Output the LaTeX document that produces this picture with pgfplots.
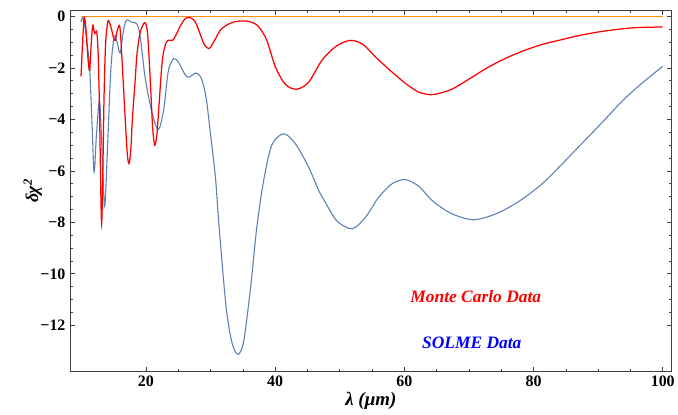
\documentclass[border=0pt]{standalone}
\usepackage{fontspec}
\setmainfont{Liberation Serif}
\usepackage{pgfplots}
\pgfplotsset{compat=1.18}

\definecolor{mcred}{rgb}{1,0,0}
\definecolor{solme}{rgb}{0.368,0.507,0.710}
\definecolor{zeroline}{rgb}{1,0.55,0.05}
\definecolor{framegray}{rgb}{0.25,0.25,0.25}

% delta chi^2 against wavelength, Monte Carlo data
\pgfplotstableread{
x y
9.95 -2.33
10.2 -1.0
10.43 -0.06
10.65 -0.3
10.83 -0.9
11.05 -1.7
11.28 -2.10
11.5 -1.2
11.75 -0.35
11.95 -0.55
12.1 -0.66
12.34 -0.58
12.5 -0.9
12.66 -1.9
12.85 -4.2
13.0 -6.6
13.14 -8.08
13.3 -6.5
13.5 -3.3
13.7 -1.4
13.86 -0.7
14.15 -0.16
14.6 -0.43
15.0 -0.85
15.26 -0.93
15.5 -0.6
15.9 -0.35
16.1 -0.8
16.3 -1.7
16.8 -4.0
17.1 -5.3
17.37 -5.72
17.65 -5.2
17.9 -4.0
18.3 -2.6
18.6 -1.5
19.0 -0.75
19.4 -0.4
19.9 -0.25
20.28 -0.74
20.75 -2.87
21.03 -4.3
21.36 -5.0
21.69 -4.6
21.97 -3.65
22.54 -1.7
23.15 -1.0
23.67 -0.93
24.14 -0.93
24.61 -0.74
25.36 -0.35
26.11 -0.08
26.86 -0.05
27.61 -0.2
28.37 -0.67
29.02 -1.09
29.78 -1.25
30.62 -0.93
31.47 -0.55
32.41 -0.35
33.82 -0.2
35.44 -0.18
36.5 -0.24
37.46 -0.4
38.71 -0.93
40.05 -1.97
41.59 -2.64
43.32 -2.83
45.17 -2.56
47.23 -1.71
49.38 -1.17
51.64 -0.93
53.6 -1.09
55.56 -1.58
57.81 -2.1
60.22 -2.61
62.24 -2.94
64.1 -3.04
65.7 -2.97
67.5 -2.81
70.24 -2.4
73.0 -1.97
75.74 -1.62
78.6 -1.32
81.46 -1.08
84.22 -0.91
87.11 -0.74
89.89 -0.61
92.78 -0.51
95.57 -0.44
97.84 -0.42
100 -0.41
}\montecarlo

% delta chi^2 against wavelength, SOLME data
\pgfplotstableread{
x y
9.95 -0.22
10.22 -0.05
10.59 -0.45
10.91 -1.1
11.28 -1.97
11.66 -4.2
11.98 -6.05
12.34 -4.6
12.82 -3.3
13.22 -5.3
13.62 -7.38
14.10 -4.8
14.58 -2.0
15.10 -0.78
15.53 -1.0
16.01 -1.42
16.49 -0.6
16.97 -0.15
17.77 -0.22
18.56 -0.28
19.09 -0.75
19.89 -2.4
20.9 -3.7
21.91 -4.4
22.73 -3.65
23.48 -2.1
24.32 -1.64
25.08 -1.8
26.39 -2.36
27.71 -2.2
28.46 -2.35
28.93 -2.7
29.4 -3.3
29.87 -4.3
30.34 -5.3
30.81 -6.4
31.37 -8.3
32.41 -11.29
33.35 -12.71
34.29 -13.13
35.16 -12.58
36.21 -10.51
37.17 -8.18
38.23 -6.37
39.48 -5.0
41.3 -4.56
43.12 -4.94
45.17 -5.85
46.74 -6.76
47.72 -7.2
49.58 -7.95
51.93 -8.25
53.99 -7.8
56.05 -7.02
58.11 -6.5
60.13 -6.34
62.24 -6.6
64.3 -7.15
67.2 -7.65
70.74 -7.9
74.36 -7.65
77.96 -7.15
81.78 -6.4
86.47 -5.2
90.32 -4.2
93.85 -3.26
96.76 -2.6
100 -1.94
}\solme

\begin{document}
\begin{tikzpicture}
% page frame
\path (-70bp,-43bp) rectangle (608bp,372bp);
\begin{axis}[
  at={(0,0)}, anchor=south west,
  scale only axis, width=602bp, height=362bp,
  xmin=8.24, xmax=101.39, ymin=-13.81, ymax=0.25,
  xtick={20,40,60,80,100}, xticklabels={20,40,60,80,100},
  minor x tick num=3,
  ytick={-12,-10,-8,-6,-4,-2,0},
  yticklabels={−12,−10,−8,−6,−4,−2,0},
  minor y tick num=3,
  tick align=inside, major tick length=5bp, minor tick length=3bp,
  axis line style={framegray, line width=0.7bp},
  every tick/.style={framegray, line width=0.6bp},
  ticklabel style={font=\bfseries\fontsize{16}{16}\selectfont},
  xticklabel style={yshift=-1bp},
  yticklabel style={xshift=-1bp},
  xlabel={\bfseries\itshape λ (μm)},
  xlabel style={font=\fontsize{19}{19}\selectfont, at={(axis description cs:0.5,0)}, anchor=center, yshift=-29bp},
  ylabel={\bfseries\itshape δχ\textsuperscript{2}},
  ylabel style={font=\fontsize{18}{18}\selectfont, at={(axis description cs:-0.062,0.5)}, anchor=center},
  clip=true,
]
\addplot[zeroline, line width=1.1bp] coordinates {(9.95,0) (100,0)};
\addplot[solme, line width=1.1bp, smooth, tension=0.5] table[x=x,y=y] {\solme};
\addplot[mcred, line width=1.25bp, smooth, tension=0.5] table[x=x,y=y] {\montecarlo};
\node[text=red, font=\bfseries\itshape\fontsize{17.5}{17.5}\selectfont] at (axis cs:71.06,-10.9) {Monte Carlo Data};
\node[text=blue, font=\bfseries\itshape\fontsize{17.5}{17.5}\selectfont] at (axis cs:70.44,-12.69) {SOLME Data};
\end{axis}
\end{tikzpicture}
\end{document}
